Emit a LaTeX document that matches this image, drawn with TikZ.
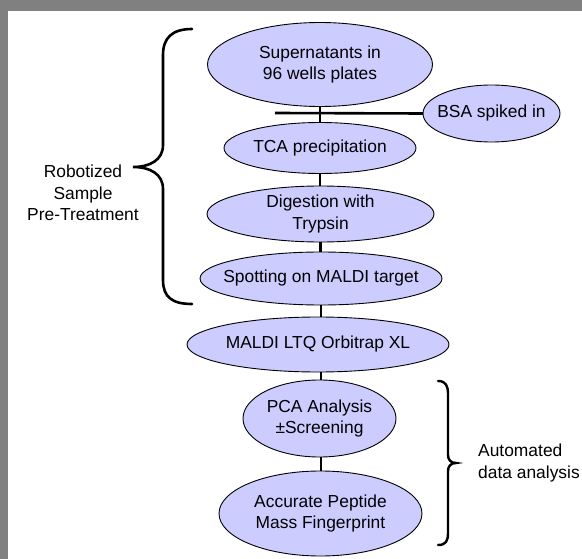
\documentclass[tikz,border=0pt]{standalone}
\usepackage{fontspec}
\setmainfont{Liberation Sans}
\usetikzlibrary{shapes.geometric}
\definecolor{procfill}{RGB}{204,204,255}
\definecolor{framegray}{RGB}{128,128,128}
\tikzset{
  proc/.style={ellipse, draw=black, line width=0.9pt, fill=procfill, inner sep=0pt, outer sep=0pt},
  txt/.style={align=center, font=\fontsize{17.4}{21.5}\selectfont, inner sep=0pt},
  conn/.style={draw=black, line width=2.8pt},
  bsaline/.style={draw=black, line width=2.6pt},
  brace/.style={draw=black, line width=2.6pt, line cap=round}
}
\begin{document}
\begin{tikzpicture}[x=1pt, y=-1pt]
\useasboundingbox (0,0) rectangle (582,559);
\fill[framegray] (0,0) rectangle (582,559);
\fill[white] (8,11) rectangle (582,559);

% process ellipses
\node[proc, minimum width=225, minimum height=84, label={[txt]center:Supernatants in\\96 wells plates}] (sup) at (320,64.5) {};
\node[proc, minimum width=137, minimum height=57, label={[txt]center:BSA spiked in}] (bsa) at (491.5,113.5) {};
\node[proc, minimum width=192, minimum height=51, label={[txt]center:TCA precipitation}] (tca) at (320,148) {};
\node[proc, minimum width=227, minimum height=56, label={[txt]center:Digestion with\\Trypsin}] (dig) at (320.5,214) {};
\node[proc, minimum width=242, minimum height=53, label={[txt]center:Spotting on MALDI target}] (spot) at (321,278.5) {};
\node[proc, minimum width=262, minimum height=55, label={[txt]center:MALDI LTQ Orbitrap XL}] (mal) at (318,344.5) {};
\node[proc, minimum width=153, minimum height=77, label={[txt]center:PCA Analysis\\±Screening}] (pca) at (319.5,418.5) {};
\node[proc, minimum width=203, minimum height=85, label={[txt]center:Accurate Peptide\\Mass Fingerprint}] (acc) at (320.5,513.5) {};

% connectors
\coordinate (bsastart) at (275,113);
\draw[conn] (sup.south) -- (sup.south |- tca.north);
\draw[bsaline] (bsastart) -- (bsa.west);
\draw[conn] (tca.south) -- (tca.south |- dig.north);
\draw[conn] (dig.south) -- (dig.south |- spot.north);
\draw[conn] (spot.south) -- (spot.south |- mal.north);
\draw[conn] (spot.south |- mal.south) -- (spot.south |- pca.north);
\draw[conn] (spot.south |- pca.south) -- (spot.south |- acc.north);

% braces
\draw[brace] (192,29) .. controls (172,29) and (163,38) .. (163,55) -- (163,145)
  .. controls (163,160) and (150,167) .. (133,167)
  .. controls (150,167) and (163,174) .. (163,189) -- (163,280)
  .. controls (163,297) and (172,304) .. (192,304);
\draw[brace, line width=2.4pt] (438,381) .. controls (446,381) and (448,386) .. (448,394) -- (448,455)
  .. controls (448,460) and (451,463) .. (456,463)
  .. controls (451,463) and (448,466) .. (448,471) -- (448,533)
  .. controls (448,541) and (446,545) .. (438,545);

% side texts
\node[txt] (robot) at (83,193) {Robotized\\Sample\\Pre-Treatment};
\node[txt, align=left, anchor=west] (auto) at (478,463) {Automated\\data analysis};
\end{tikzpicture}
\end{document}
